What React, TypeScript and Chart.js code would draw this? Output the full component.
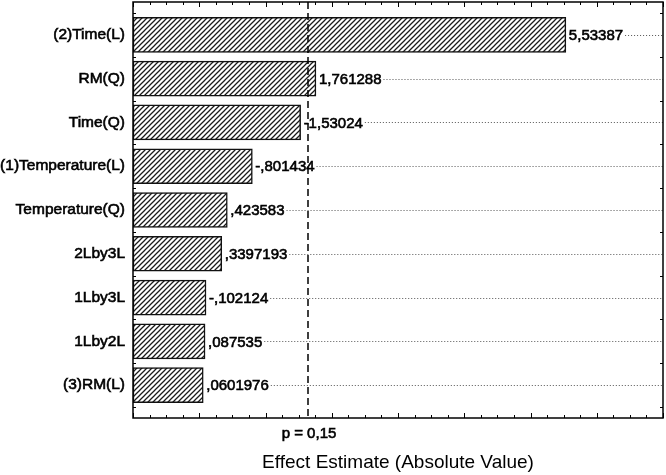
import React, { useEffect, useRef } from "react";
import { Chart, registerables } from "chart.js";
Chart.register(...registerables);

const categories = ["(2)Time(L)", "RM(Q)", "Time(Q)", "(1)Temperature(L)", "Temperature(Q)", "2Lby3L", "1Lby3L", "1Lby2L", "(3)RM(L)"];
const effects = [5.53387, 1.761288, 1.53024, 0.801434, 0.423583, 0.3397193, 0.102124, 0.087535, 0.0601976];
const effectLabels = ["5,53387", "1,761288", "-1,53024", "-,801434", ",423583", ",3397193", "-,102124", ",087535", ",0601976"];
const pThreshold = 1.645;
const pLabel = "p = 0,15";
const xMin = -1;
const xMax = 7;
const xTitle = "Effect Estimate (Absolute Value)";

const FONT = '"Liberation Sans", Arial, sans-serif';

function makePattern(): CanvasPattern | string {
  const c = document.createElement("canvas");
  const s = 5;
  c.width = s;
  c.height = s;
  const g = c.getContext("2d");
  if (!g) return "#fff";
  g.fillStyle = "#fff";
  g.fillRect(0, 0, s, s);
  g.strokeStyle = "#1a1a1a";
  g.lineWidth = 1.25;
  g.beginPath();
  g.moveTo(-1, s + 1);
  g.lineTo(s + 1, -1);
  g.moveTo(-1, 1);
  g.lineTo(1, -1);
  g.moveTo(s - 1, s + 1);
  g.lineTo(s + 1, s - 1);
  g.stroke();
  const p = g.createPattern(c, "repeat");
  return p || "#fff";
}

const paretoPlugin = {
  id: "paretoExtras",
  afterDatasetsDraw(chart: any) {
    const { ctx, chartArea: a, scales } = chart;
    const x = scales.x;
    const meta = chart.getDatasetMeta(0);
    ctx.save();
    ctx.font = `15px ${FONT}`;
    ctx.textBaseline = "middle";
    ctx.textAlign = "left";
    meta.data.forEach((bar: any, i: number) => {
      const tx = bar.x + 3;
      const ty = bar.y + 1;
      const txt = effectLabels[i];
      ctx.fillStyle = "#000";
      ctx.strokeStyle = "#000";
      ctx.lineWidth = 0.6;
      ctx.fillText(txt, tx, ty);
      ctx.strokeText(txt, tx, ty);
      const w = ctx.measureText(txt).width;
      ctx.save();
      ctx.setLineDash([1, 2]);
      ctx.strokeStyle = "#555";
      ctx.lineWidth = 1;
      const ly = Math.round(bar.y) + 0.5;
      ctx.beginPath();
      ctx.moveTo(tx + w + 2, ly);
      ctx.lineTo(a.right, ly);
      ctx.stroke();
      ctx.restore();
    });
    // dashed significance line
    const px = Math.round(x.getPixelForValue(pThreshold));
    ctx.save();
    ctx.setLineDash([7, 4]);
    ctx.strokeStyle = "#000";
    ctx.lineWidth = 1.5;
    ctx.beginPath();
    ctx.moveTo(px, a.top);
    ctx.lineTo(px, a.bottom);
    ctx.stroke();
    ctx.restore();
    // p label
    ctx.textAlign = "center";
    ctx.font = `15px ${FONT}`;
    ctx.fillStyle = "#000";
    ctx.lineWidth = 0.6;
    ctx.fillText(pLabel, px + 1, 434);
    ctx.strokeText(pLabel, px + 1, 434);
    ctx.restore();
  },
  afterDraw(chart: any) {
    const { ctx, chartArea: a, scales } = chart;
    const x = scales.x;
    const y = scales.y;
    ctx.save();
    ctx.strokeStyle = "#000";
    ctx.lineWidth = 1;
    ctx.beginPath();
    // x ticks top and bottom
    for (let v = xMin; v <= xMax + 1e-9; v += 0.25) {
      const px = Math.round(x.getPixelForValue(v)) + 0.5;
      const major = Math.abs(v - Math.round(v)) < 1e-6;
      const len = major ? 5 : 3;
      ctx.moveTo(px, a.bottom);
      ctx.lineTo(px, a.bottom - len);
      ctx.moveTo(px, a.top);
      ctx.lineTo(px, a.top + len);
    }
    // y ticks at category boundaries
    for (let i = 0; i <= categories.length; i++) {
      const py = Math.round(y.getPixelForValue(i - 0.5)) + 0.5;
      ctx.moveTo(a.left, py);
      ctx.lineTo(a.left + 3, py);
      ctx.moveTo(a.right, py);
      ctx.lineTo(a.right - 3, py);
    }
    ctx.stroke();
    // frame
    ctx.lineWidth = 1.5;
    ctx.strokeRect(a.left, a.top, a.right - a.left, a.bottom - a.top);
    ctx.restore();
  },
};

export default function App() {
  const ref = useRef<HTMLCanvasElement | null>(null);
  useEffect(() => {
    if (!ref.current) return;
    const pattern = makePattern();
    const chart = new Chart(ref.current, {
      type: "bar",
      data: {
        datasets: [
          {
            data: effects.map((v, i) => ({ x: v, y: i })) as any,
            base: xMin,
            backgroundColor: pattern as any,
            borderColor: "#111",
            borderWidth: 1.5,
            borderSkipped: false,
            barThickness: 35,
          } as any,
        ],
      },
      options: {
        indexAxis: "y",
        animation: false,
        responsive: false,
        maintainAspectRatio: false,
        layout: { padding: { top: 2, right: 3, left: 0, bottom: 0 } },
        plugins: { legend: { display: false }, tooltip: { enabled: false } },
        scales: {
          x: {
            type: "linear",
            min: xMin,
            max: xMax,
            offset: false,
            ticks: { display: false },
            grid: { display: false },
            border: { display: false },
            title: {
              display: true,
              text: xTitle,
              color: "#000",
              font: { family: FONT, size: 19 },
              padding: { top: 0, bottom: 1 },
            },
            afterFit: (s: any) => {
              s.height = 57;
              s.paddingLeft = 0;
              s.paddingRight = 0;
            },
          },
          y: {
            type: "linear",
            reverse: true,
            offset: false,
            min: -0.75,
            max: categories.length - 0.25,
            grid: { display: false, drawTicks: false },
            border: { display: false },
            afterBuildTicks: (s: any) => {
              s.ticks = categories.map((_, i) => ({ value: i }));
            },
            ticks: {
              padding: 8,
              color: "#000",
              font: { family: FONT, size: 15.5 },
              textStrokeColor: "#000",
              textStrokeWidth: 0.6,
              callback: (v: any) => categories[Math.round(Number(v))] ?? "",
            } as any,
            afterFit: (s: any) => {
              s.width = 133;
              s.paddingTop = 0;
              s.paddingBottom = 0;
            },
          },
        },
      } as any,
      plugins: [paretoPlugin],
    });
    return () => chart.destroy();
  }, []);
  return (
    <div style={{ position: "fixed", left: 0, top: 0, width: 666, height: 475, background: "#fff" }}>
      <canvas ref={ref} width={666} height={475} style={{ display: "block" }} />
    </div>
  );
}
